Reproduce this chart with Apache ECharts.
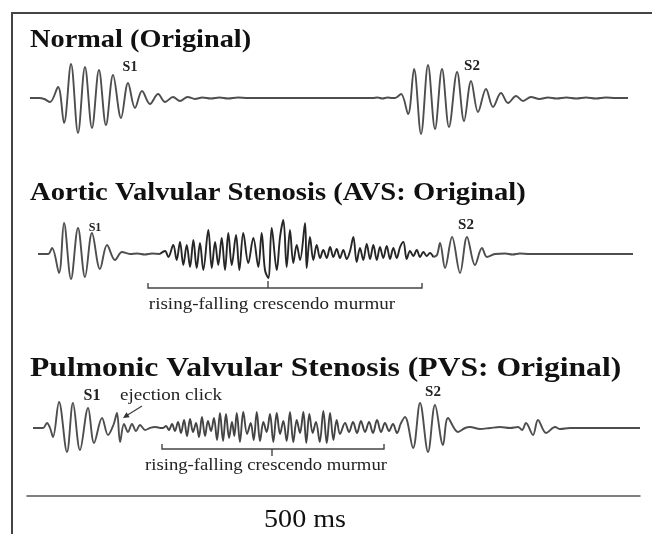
<!DOCTYPE html>
<html><head><meta charset="utf-8">
<script src="https://cdn.jsdelivr.net/npm/echarts/dist/echarts.min.js"></script>
<style>html,body{margin:0;padding:0;background:#fff}#c{width:652px;height:534px}</style>
</head><body><div id="c"></div>
<script>
// [time (ms), amplitude (a.u.)]
const normalS1 = [[2.4,0],[10,0],[14,-1],[18.8,-4],[25.3,11],[30.2,-25],[35.9,34],[41.6,-35],[47.3,31],[53.0,-30],[58.7,28],[64.4,-27],[70.2,23],[76.7,-20],[82.4,15],[88.1,-10],[93.8,7],[100.3,-6],[106.9,4],[112.6,-4],[119.1,1],[124.8,-3],[131,1],[137,-1],[143,0.5],[150,-0.5],[157,0.5],[164,-0.5],[172,0.5],[180,0],[186,0],[230,0]];
const normalS2 = [[282,0],[286,0.5],[290,-0.5],[294,0.5],[298,0],[300.2,0],[305.1,4],[310.8,-16],[315.7,29],[321.4,-36],[327.1,33],[332.8,-31],[338.5,29],[344.2,-29],[350.8,26],[356.5,-23],[362.2,17],[367.9,-14],[374.4,9],[380.1,-9],[386.6,5],[392.4,-5],[398.9,2],[404.6,-3],[411.1,1],[418,-1],[425,0.5],[432,-0.5],[440,0.5],[448,-0.5],[456,0.5],[464,-0.5],[472,0.5],[480,0],[490.2,0]];

const avsS1 = [[9.0,0],[17.1,0],[20.4,6],[26.1,-19],[30.2,31],[35.9,-25],[41.6,26],[47.3,-23],[53.0,21],[59.5,-15],[65.3,9],[71.8,-6],[77.5,2],[84.0,0],[90,0.5],[96,-0.5],[102,0.5],[108.5,0]];
const avsMurmur = [[108.5,0],[112.6,3],[115.3,-3],[119.3,9],[122.1,-6],[124.8,12],[127.5,-11],[130.3,9],[133.0,-13],[135.7,14],[138.4,-14],[141.1,11],[143.8,-16],[147.9,24],[150.7,-14],[153.4,12],[156.0,-11],[158.8,16],[161.5,-16],[164.2,21],[167.0,-11],[170.5,19],[173.2,-16],[176.4,21],[180.5,-9],[184.6,16],[188.7,-13],[191.4,21],[194.1,-16],[196.8,-24],[199.6,26],[203.7,-16],[206.4,17],[209.1,34],[211.8,-13],[214.5,24],[217.2,-9],[220.0,9],[222.7,-6],[226.8,31],[228.1,-14],[230.8,17],[233.5,-6],[236.3,9],[239.0,-4],[241.7,4],[244.5,-4],[247.2,7],[249.9,-3],[252.6,5],[255.3,-4],[258.0,4],[260.8,-5],[263.5,3],[266.2,17],[268.9,-8],[271.6,6],[274.3,-6],[277.1,10],[279.8,-5],[282.5,9],[285.3,-6],[287.9,7],[290.6,-4],[293.4,8],[296.1,-5],[298.8,6],[301.6,-4],[304.3,7],[307.0,12],[309.7,-5],[312.4,3],[315.1,-2],[317.9,4],[320.6,-3],[323.3,2],[326.0,-2],[328.7,1],[331.4,-3]];
const avsS2 = [[331.4,-3],[334.4,-1],[336.9,11],[341.0,-14],[346.7,17],[353.2,-19],[358.9,17],[365.4,-11],[371.1,6],[375.2,-3],[381.7,0],[390,0.5],[396,-0.5],[402,0.5],[410,0],[494.3,0]];

const pvsS1 = [[4.9,0],[13.1,0],[16.3,5],[18.8,0],[21.2,-9],[26.1,26],[32.6,-24],[37.5,25],[43.2,-22],[49.8,20],[54.7,-15],[61.2,10],[66.1,-7],[70.5,3],[73.4,15],[75.9,-14],[79.1,4],[82.4,-4],[85.6,4],[88.9,-3],[92.2,3],[96.3,-2],[100.3,0],[104.4,1],[108.5,0]];
const pvsMurmur = [[108.5,0],[110.9,0],[113.4,2],[115.8,-2],[118.3,4],[120.7,-3],[123.2,6],[125.6,-5],[128.1,8],[130.5,-8],[133.0,9],[135.4,-4],[137.9,5],[140.3,-9],[142.7,11],[145.2,-8],[147.6,7],[150.1,-3],[152.5,10],[155.0,-12],[157.4,15],[159.9,-13],[162.3,14],[164.8,-10],[167.2,6],[169.1,-8],[171.1,15],[173.7,-14],[176.4,16],[179.5,-6],[182.5,5],[184.9,-12],[187.4,16],[190.1,-13],[192.8,6],[195.5,-4],[198.2,14],[200.9,-14],[203.7,15],[206.4,-6],[209.1,7],[211.8,-13],[214.5,16],[217.2,-14],[220.0,8],[222.7,-5],[225.4,16],[227.8,-15],[230.3,14],[233.0,-5],[235.7,6],[238.8,-14],[241.7,17],[244.5,-15],[247.2,15],[249.9,-12],[252.6,8],[255.3,-6],[259.4,5],[262.7,-4],[265.9,6],[269.2,-5],[272.4,7],[275.7,-4],[279.0,6],[282.2,-5],[285.5,8],[288.8,-4],[292.0,5],[295.3,-3],[298.5,4],[301.8,-5],[304.3,3]];
const pvsS2 = [[304.3,3],[308.3,11],[314.9,-20],[320.6,25],[327.1,-24],[332.8,23],[339.3,-17],[343.4,10],[351.6,-4],[357.3,0],[361.4,1],[369.5,-1],[377.7,0],[385.8,1],[394.0,0],[400.5,1],[403.8,-2],[407.0,5],[412.7,-7],[416.8,8],[423.4,-5],[430.7,1],[434.8,-1],[442.9,0],[500,0]];

const titles = ['Normal (Original)', 'Aortic Valvular Stenosis (AVS: Original)', 'Pulmonic Valvular Stenosis (PVS: Original)'];
const murmurLabel = 'rising-falling crescendo murmur';
const scaleLabel = '500 ms';

const chart = echarts.init(document.getElementById('c'), null, {renderer: 'canvas'});
const SERIF = '"Liberation Serif", "Times New Roman", serif';
const traceColor = '#4e4e4e';

function txt(x, y, text, size, opts) {
  opts = opts || {};
  return {
    type: 'text', x: x, y: y, scaleX: opts.sx || 1, silent: true,
    style: {
      text: text, font: (opts.bold ? 'bold ' : '') + size + 'px ' + SERIF, fill: opts.fill || '#111',
      align: opts.align || 'left', verticalAlign: 'middle',
      textAlign: opts.align || 'left', textVerticalAlign: 'middle'
    }
  };
}
function poly(points, w) {
  return { type: 'polyline', silent: true, shape: { points: points }, style: { stroke: '#444', lineWidth: w || 1.4, fill: null } };
}

const grids = [
  { left: 27, right: 12, top: 55, height: 90 },
  { left: 27, right: 12, top: 210, height: 90 },
  { left: 27, right: 12, top: 385, height: 111 }
];
const yRanges = [[-47, 43], [-46, 44], [-68, 43]];

const option = {
  animation: false,
  backgroundColor: '#fff',
  grid: grids,
  xAxis: grids.map((g, i) => ({
    type: 'value', gridIndex: i, min: 0, max: 500,
    axisLine: { show: i === 2, onZero: false, lineStyle: { color: '#555', width: 1.5 } },
    axisTick: { show: false }, axisLabel: { show: false }, splitLine: { show: false }
  })),
  yAxis: grids.map((g, i) => ({
    type: 'value', gridIndex: i, min: yRanges[i][0], max: yRanges[i][1], show: false, splitLine: { show: false }
  })),
  series: [
    { data: normalS1.concat(normalS2), idx: 0, color: traceColor },
    { data: avsS1, idx: 1, color: traceColor },
    { data: avsMurmur, idx: 1, color: '#262626' },
    { data: avsS2, idx: 1, color: traceColor },
    { data: pvsS1, idx: 2, color: traceColor },
    { data: pvsMurmur, idx: 2, color: '#444' },
    { data: pvsS2, idx: 2, color: traceColor }
  ].map(s => ({
    type: 'line', xAxisIndex: s.idx, yAxisIndex: s.idx, data: s.data,
    showSymbol: false, smooth: 0.35, silent: true,
    lineStyle: { color: s.color, width: 1.9 }
  })),
  graphic: [
    poly([[12, 534], [12, 13], [652, 13]], 2),
    txt(30, 40, titles[0], 26, { bold: true, sx: 1.09 }),
    txt(30, 193, titles[1], 26, { bold: true, sx: 1.1 }),
    txt(30, 369, titles[2], 28, { bold: true, sx: 1.13 }),
    txt(130, 67, 'S1', 14, { bold: true, align: 'center', fill: '#222' }),
    txt(472, 66, 'S2', 15, { bold: true, align: 'center', fill: '#222' }),
    txt(95, 228, 'S1', 12, { bold: true, align: 'center', fill: '#222' }),
    txt(466, 225, 'S2', 15, { bold: true, align: 'center', fill: '#222' }),
    txt(92, 396, 'S1', 16, { bold: true, align: 'center', fill: '#222' }),
    txt(433, 392, 'S2', 15, { bold: true, align: 'center', fill: '#222' }),
    txt(120, 396, 'ejection click', 17, { sx: 1.12, fill: '#222' }),
    poly([[142, 406], [126, 416]], 1.4),
    { type: 'polygon', silent: true, shape: { points: [[123, 418], [129.7, 417.3], [126.5, 412.3]] }, style: { fill: '#333' } },
    poly([[148, 283], [148, 288], [422, 288], [422, 283]]),
    poly([[268, 288], [268, 281]]),
    txt(272, 305, murmurLabel, 17, { align: 'center', sx: 1.12, fill: '#222' }),
    poly([[162, 444], [162, 449], [384, 449], [384, 444]]),
    poly([[272, 449], [272, 456]]),
    txt(266, 466, murmurLabel, 17, { align: 'center', sx: 1.1, fill: '#222' }),
    txt(305, 520, scaleLabel, 26, { align: 'center', sx: 1.08, fill: '#111' })
  ]
};
chart.setOption(option);
</script>
</body></html>
